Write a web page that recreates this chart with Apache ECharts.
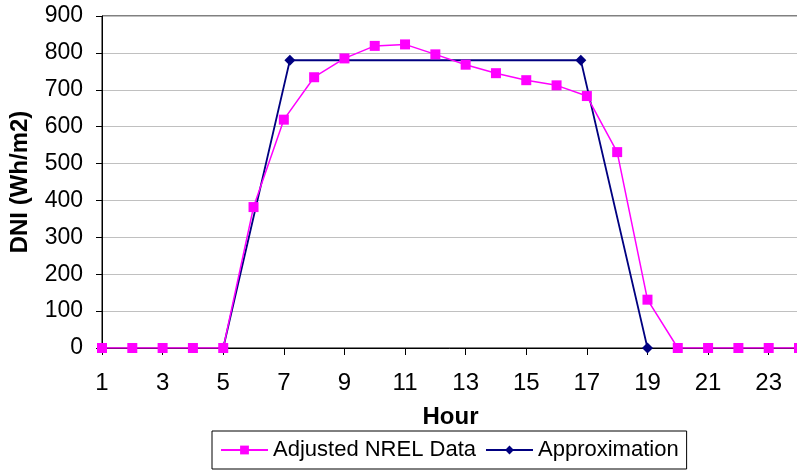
<!DOCTYPE html>
<html>
<head>
<meta charset="utf-8">
<script src="https://cdn.jsdelivr.net/npm/echarts@6/dist/echarts.min.js"></script>
<style>html,body{margin:0;padding:0;background:#fff}#c{width:797px;height:470px}</style>
</head>
<body>
<div id="c"></div>
<script>
const hours = ['1','2','3','4','5','6','7','8','9','10','11','12','13','14','15','16','17','18','19','20','21','22','23','24'];
const nrelValues = [0,0,0,0,0,382,619,734,785,819,823,796,768,745,726,712,683,531,131,0,0,0,0,0];
const approxHours = [5, 7.2, 16.8, 19];
const approxValues = [0, 780, 780, 0];
const yTicks = [0, 900, 100];

const approxData = approxHours.map((h, i) => [h, approxValues[i]]);
const font = 'Liberation Sans, Arial, sans-serif';

const chart = echarts.init(document.getElementById('c'), null, {renderer: 'canvas'});
chart.setOption({
  animation: false,
  backgroundColor: '#fff',
  grid: {left: 102, top: 16, right: -2, bottom: 122, containLabel: false, outerBoundsMode: 'none', show: true, borderColor: '#000', borderWidth: 1, backgroundColor: 'transparent'},
  xAxis: [{
    type: 'category',
    data: hours,
    boundaryGap: false,
    name: 'Hour',
    nameLocation: 'middle',
    nameGap: 57,
    nameTextStyle: {fontFamily: font, fontSize: 24, fontWeight: 'bold', color: '#000'},
    axisLine: {lineStyle: {color: '#000', width: 1}},
    axisTick: {show: true, interval: 1, length: 7, lineStyle: {color: '#000'}},
    axisLabel: {interval: 1, margin: 23, fontFamily: font, fontSize: 24, color: '#000'},
    splitLine: {show: false}
  }, {
    type: 'value',
    min: 1,
    max: 24,
    show: false,
    splitLine: {show: false}
  }],
  yAxis: {
    type: 'value',
    min: yTicks[0],
    max: yTicks[1],
    interval: yTicks[2],
    name: 'DNI (Wh/m2)',
    nameLocation: 'middle',
    nameRotate: 90,
    nameGap: 70,
    nameTextStyle: {fontFamily: font, fontSize: 24, fontWeight: 'bold', color: '#000'},
    axisLine: {show: true, lineStyle: {color: '#000', width: 1}},
    axisTick: {show: true, length: 6, lineStyle: {color: '#000'}},
    axisLabel: {margin: 19, fontFamily: font, fontSize: 23, color: '#000'},
    splitLine: {show: true, lineStyle: {color: '#c0c0c0', width: 1}}
  },
  legend: {
    left: 212,
    top: 431,
    itemWidth: 47,
    itemHeight: 11,
    itemGap: 9,
    padding: [8, 8, 8, 8],
    borderColor: '#000',
    borderWidth: 1,
    textStyle: {fontFamily: font, fontSize: 22, color: '#000'},
    data: ['Adjusted NREL Data', 'Approximation']
  },
  series: [{
    name: 'Adjusted NREL Data',
    type: 'line',
    xAxisIndex: 0,
    data: nrelValues,
    symbol: 'rect',
    symbolSize: 10,
    color: '#ff00ff',
    lineStyle: {color: '#ff00ff', width: 1.5},
    itemStyle: {color: '#ff00ff'},
    z: 3
  }, {
    name: 'Approximation',
    type: 'line',
    xAxisIndex: 1,
    data: approxData,
    symbol: 'diamond',
    symbolSize: 11,
    color: '#000080',
    lineStyle: {color: '#000080', width: 1.8},
    itemStyle: {color: '#000080'},
    z: 2
  }]
});
</script>
</body>
</html>
